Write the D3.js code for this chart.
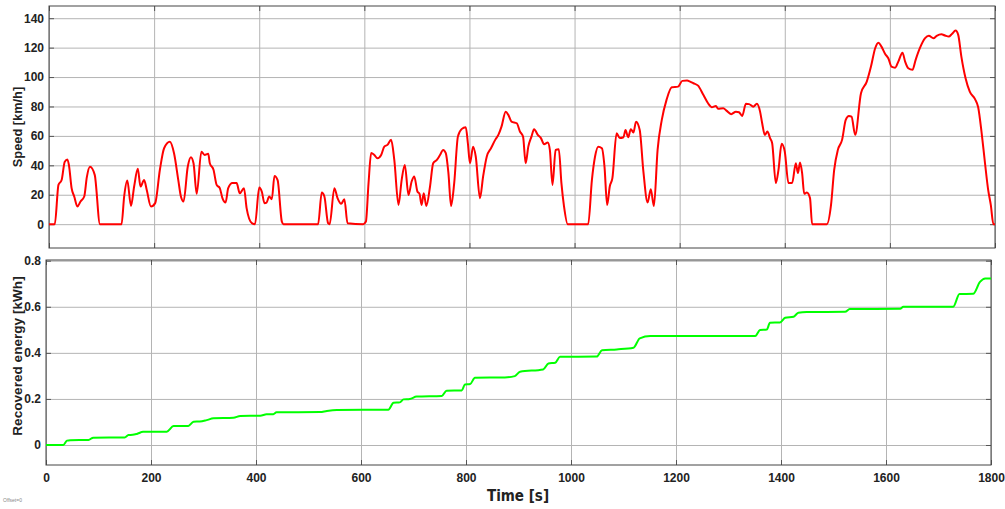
<!DOCTYPE html>
<html>
<head>
<meta charset="utf-8">
<script src="https://cdn.jsdelivr.net/npm/d3@7"></script>
<style>
  body { margin: 0; background: #fff; }
  svg { display: block; font-family: "Liberation Sans", Arial, sans-serif; }
</style>
</head>
<body>
<div id="chart"></div>
<script>
// speed trace (s, km/h)
var speedTime = [0, 11, 18, 24, 30, 35, 38, 43, 48, 54, 60, 67, 72, 78, 87, 97, 138,
  143, 149, 156, 162, 169, 174, 181, 186, 194, 202, 211, 219, 230, 238, 246, 251, 256,
  264, 270, 275, 281, 290, 296, 303, 306, 313, 319, 325, 330, 336, 341, 349, 357, 363,
  371, 376, 386, 392, 400, 405, 410, 414, 419, 424, 429, 435, 443, 446, 512, 519, 524,
  531, 534, 543, 549, 556, 562, 568, 598, 603, 608, 613, 619, 625, 632, 638, 644, 651,
  657, 665, 671, 677, 684, 690, 695, 701, 705, 709, 713, 718, 725, 731, 738, 744, 750,
  755, 760, 765, 771, 778, 785, 793, 797, 801, 807, 812, 820, 826, 833, 841, 849, 855,
  861, 869, 874, 880, 890, 896, 902, 907, 912, 918, 923, 930, 936, 942, 949, 953, 958,
  964, 970, 975, 980, 987, 1026, 1033, 1039, 1045, 1052, 1057, 1062, 1067, 1072, 1080,
  1086, 1093, 1097, 1102, 1107, 1112, 1117, 1124, 1131, 1139, 1145, 1151, 1158, 1166,
  1175, 1185, 1197, 1205, 1214, 1220, 1226, 1235, 1245, 1254, 1261, 1269, 1273, 1283,
  1289, 1298, 1307, 1313, 1319, 1326, 1332, 1340, 1347, 1353, 1357, 1362, 1367, 1372,
  1376, 1383, 1388, 1394, 1400, 1407, 1414, 1421, 1425, 1429, 1433, 1437, 1442, 1448,
  1452, 1480, 1488, 1494, 1501, 1509, 1516, 1522, 1527, 1534, 1545, 1556, 1564, 1572,
  1578, 1584, 1591, 1597, 1603, 1610, 1616, 1624, 1629, 1635, 1643, 1649, 1657, 1667,
  1674, 1683, 1689, 1698, 1705, 1712, 1718, 1725, 1730, 1736, 1744, 1752, 1762, 1768,
  1775, 1781, 1787, 1792, 1797, 1800];
var speedValue = [0, 0, 26.7, 30, 42.5, 44, 40, 24.5, 18.8, 12, 15.4, 18.8, 32, 39, 33.5, 0, 0,
  18.8, 29.6, 12.4, 25.6, 37.6, 25.6, 30, 23.3, 12, 14.3, 37, 51.6, 56, 48, 30, 18.8, 15.4,
  39, 45.5, 41.4, 20.6, 49.3, 47, 47.8, 41.4, 37, 26.7, 24.5, 17.7, 14.7, 24.5, 27.9, 27.9, 21,
  24.5, 10.9, 0.7, 0, 25, 22, 14.3, 14.7, 18.8, 17, 32.8, 30, 1.8, 0, 0, 21.5, 18.8,
  0.7, 0, 24.5, 17.7, 13.8, 17, 0.7, 0, 1.8, 27.9, 48.3, 47, 44.8, 47, 52.7, 53.9, 57.3,
  43.7, 13.1, 30, 40.3, 19.9, 29, 32.4, 22.2, 20.6, 13.1, 21, 12.4, 25.6, 41.4, 43.7, 47, 50.5,
  48.3, 34.7, 12.4, 27.9, 59.5, 64.6, 65.9, 55, 41.4, 52.7, 46, 17.7, 32.4, 46, 51.6, 57.3, 60.7,
  66.3, 76.5, 74.3, 69.7, 68.6, 63, 59.5, 41.4, 52.7, 59.5, 64.6, 60.7, 58.5, 54.4, 55.5, 50.5, 26.7,
  50.5, 51, 27.9, 12, 0, 0, 30, 46, 52.7, 51.6, 39, 13.1, 25.6, 31.3, 61.8,
  58.5, 59.1, 64, 59.1, 64.6, 62.3, 69.7, 64, 35.7, 14.7, 23.8, 12.4, 50.5, 70.9,
  84.5, 93.1, 93.5, 97.4, 97.6, 96.9, 95.8, 94.2, 87.9, 82.2, 79.5, 80.4, 78.4, 78.8,
  77.2, 74.8, 76.5, 76.1, 73.6, 81.8, 81.6, 79.9, 81.8, 76.5, 68.6, 60.7, 63, 58.5,
  55, 27.9, 36.9, 54.6, 49.3, 27.9, 27.9, 41.4, 34.7, 41.9, 34.7, 20.6, 21.5, 17.7,
  0, 0, 13.1, 36.9, 50.5, 57.3, 70.9, 73.6, 73.1, 60.7, 89, 96.9, 107.1, 119.6,
  123.4, 120.7, 115.7, 112.8, 107.1, 106.4, 110.5, 116.6, 110.5, 106, 104.9, 111.7, 119.6, 126.4,
  128, 126.4, 128, 129.1, 128.2, 127.5, 129.3, 131.6, 128.7, 113.9, 99.2, 90.1, 85, 79.5,
  60.7, 41.4, 23.3, 13.1, 0, 0];

// cumulative recovered energy (s, kWh)
var energyTime = [0, 33, 40, 46, 81, 90, 150, 157, 165, 173, 185, 230, 243, 271, 281, 293,
  306, 319, 357, 370, 408, 420, 433, 439, 522, 535, 554, 652, 662, 674, 681, 693, 706,
  754, 763, 792, 798, 808, 817, 874, 893, 903, 947, 957, 970, 979, 1049, 1059, 1087,
  1119, 1131, 1151, 1351, 1360, 1373, 1379, 1398, 1408, 1424, 1433, 1449, 1522, 1531,
  1627, 1633, 1728, 1740, 1766, 1779, 1789, 1800];
var energyValue = [0, 0, 0.019, 0.021, 0.022, 0.032, 0.033, 0.043, 0.044, 0.048, 0.057, 0.058, 0.082, 0.083, 0.101, 0.102,
  0.108, 0.116, 0.118, 0.126, 0.127, 0.133, 0.134, 0.142, 0.143, 0.148, 0.152, 0.153, 0.183, 0.185, 0.198, 0.2, 0.21,
  0.213, 0.236, 0.237, 0.263, 0.265, 0.292, 0.293, 0.299, 0.318, 0.328, 0.354, 0.357, 0.383, 0.384, 0.411, 0.415,
  0.422, 0.463, 0.473, 0.473, 0.499, 0.501, 0.531, 0.532, 0.552, 0.557, 0.574, 0.577, 0.578, 0.59,
  0.591, 0.6, 0.6, 0.655, 0.656, 0.708, 0.723, 0.723];

var timeTicks = [0, 200, 400, 600, 800, 1000, 1200, 1400, 1600, 1800];
var speedTicks = [0, 20, 40, 60, 80, 100, 120, 140];
var energyTicks = [0, 0.2, 0.4, 0.6, 0.8];

var svg = d3.select("#chart")
  .append("svg")
  .attr("width", 1005)
  .attr("height", 509);

// draws one framed panel with grid, returns scales
function panel(box, yDomain, yTicks, yFmt, showXLabels) {
  var x = d3.scaleLinear().domain([0, 1800]).range([box.left, box.right]);
  var y = d3.scaleLinear().domain(yDomain).range([box.bottom, box.top]);
  var w = box.right - box.left, h = box.bottom - box.top;

  var g = svg.append("g");

  // grid
  g.append("g")
    .attr("transform", "translate(0," + box.bottom + ")")
    .call(d3.axisBottom(x).tickValues(timeTicks).tickSize(-h).tickFormat(""))
    .call(function(a) {
      a.select(".domain").remove();
      a.selectAll("line").attr("stroke", "#b4b4b4").attr("stroke-width", 1);
    });
  g.append("g")
    .attr("transform", "translate(" + box.left + ",0)")
    .call(d3.axisLeft(y).tickValues(yTicks).tickSize(-w).tickFormat(""))
    .call(function(a) {
      a.select(".domain").remove();
      a.selectAll("line").attr("stroke", "#b4b4b4").attr("stroke-width", 1);
    });

  // inner tick marks + labels
  var left = g.append("g")
    .attr("transform", "translate(" + box.left + ",0)")
    .call(d3.axisLeft(y).tickValues(yTicks).tickSize(-5).tickPadding(5).tickFormat(yFmt));
  var right = g.append("g")
    .attr("transform", "translate(" + box.right + ",0)")
    .call(d3.axisRight(y).tickValues(yTicks).tickSize(-5).tickFormat(""));
  var bottom = g.append("g")
    .attr("transform", "translate(0," + box.bottom + ")")
    .call(d3.axisBottom(x).tickValues(timeTicks).tickSize(-5).tickPadding(8)
      .tickFormat(showXLabels ? d3.format("d") : ""));
  var topAx = g.append("g")
    .attr("transform", "translate(0," + box.top + ")")
    .call(d3.axisTop(x).tickValues(timeTicks).tickSize(-5).tickFormat(""));

  [left, right, bottom, topAx].forEach(function(a) {
    a.select(".domain").remove();
    a.selectAll("line").attr("stroke", "#555");
    a.selectAll("text")
      .attr("fill", "#222")
      .style("font-weight", "bold")
      .style("font-size", "12px");
  });

  // frame
  g.append("rect")
    .attr("x", box.left).attr("y", box.top)
    .attr("width", w).attr("height", h)
    .attr("fill", "none")
    .attr("stroke", "#444")
    .attr("stroke-width", 1);

  return { x: x, y: y, g: g };
}

var speedPanel = panel({ left: 49, right: 995, top: 6, bottom: 248 },
  [-16.2, 148.3], speedTicks, d3.format("d"), false);
var energyPanel = panel({ left: 46, right: 991, top: 260, bottom: 465 },
  [-0.0868, 0.803], energyTicks, function(d) { return d === 0 ? "0" : d3.format(".1f")(d); }, true);

var speedLine = d3.line()
  .x(function(d, i) { return speedPanel.x(speedTime[i]); })
  .y(function(d) { return speedPanel.y(d); })
  .curve(d3.curveMonotoneX);

speedPanel.g.append("path")
  .datum(speedValue)
  .attr("fill", "none")
  .attr("stroke", "#ff0000")
  .attr("stroke-width", 2)
  .attr("stroke-linejoin", "round")
  .attr("d", speedLine);

var energyLine = d3.line()
  .x(function(d, i) { return energyPanel.x(energyTime[i]); })
  .y(function(d) { return energyPanel.y(d); })
  .curve(d3.curveMonotoneX);

energyPanel.g.append("path")
  .datum(energyValue)
  .attr("fill", "none")
  .attr("stroke", "#00ff00")
  .attr("stroke-width", 2)
  .attr("stroke-linejoin", "round")
  .attr("d", energyLine);

// axis titles
svg.append("text")
  .attr("transform", "translate(22,127) rotate(-90)")
  .attr("text-anchor", "middle")
  .attr("fill", "#222")
  .style("font-weight", "bold")
  .style("font-size", "12.8px")
  .text("Speed [km/h]");

svg.append("text")
  .attr("transform", "translate(22,356) rotate(-90)")
  .attr("text-anchor", "middle")
  .attr("fill", "#222")
  .style("font-weight", "bold")
  .style("font-size", "13.6px")
  .text("Recovered energy [kWh]");

svg.append("text")
  .attr("x", 518)
  .attr("y", 501)
  .attr("text-anchor", "middle")
  .attr("fill", "#222")
  .style("font-family", "'Liberation Sans Narrow', 'DejaVu Sans Condensed', sans-serif")
  .style("font-weight", "bold")
  .style("font-size", "15px")
  .text("Time [s]");

svg.append("text")
  .attr("x", 3)
  .attr("y", 502)
  .attr("fill", "#888")
  .style("font-size", "5px")
  .text("Offset=0");
</script>
</body>
</html>
